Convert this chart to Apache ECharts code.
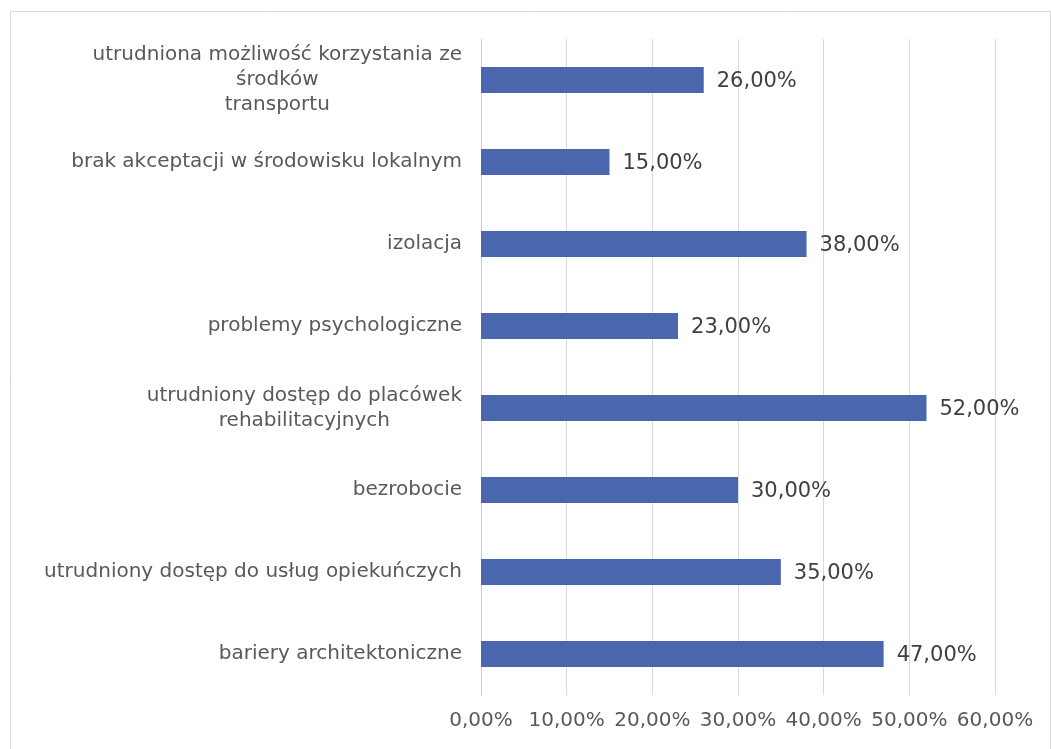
<!DOCTYPE html>
<html>
<head>
<meta charset="utf-8">
<script src="https://cdn.jsdelivr.net/npm/echarts@6/dist/echarts.min.js"></script>
<style>
  html, body { margin: 0; padding: 0; background: #fff; }
  #bar { width: 1051px; height: 749px; }
</style>
</head>
<body>
<div id="bar"></div>
<script>
// categories from bottom to top
var categories = [
  "bariery architektoniczne",
  "utrudniony dostęp do usług opiekuńczych",
  "bezrobocie",
  "utrudniony dostęp do placówek\nrehabilitacyjnych",
  "problemy psychologiczne",
  "izolacja",
  "brak akceptacji w środowisku lokalnym",
  "utrudniona możliwość korzystania ze\nśrodków\ntransportu"
];
var values = [47, 35, 30, 52, 23, 38, 15, 26];
var axisMax = 60;
var axisStep = 10;

function pct(v) {
  return v.toFixed(2).replace(".", ",") + "%";
}

var myChart = echarts.init(document.getElementById("bar"));
myChart.setOption({
  animation: false,
  textStyle: { fontFamily: "DejaVu Sans" },
  graphic: [
    {
      type: "rect",
      shape: { x: 10.5, y: 11.5, width: 1040, height: 740 },
      style: { fill: "none", stroke: "#d9d9d9", lineWidth: 1 }
    }
  ],
  grid: { left: 481, right: 56, top: 39, bottom: 54 },
  xAxis: {
    type: "value",
    min: 0,
    max: axisMax,
    interval: axisStep,
    axisLine: { show: false },
    axisTick: { show: false },
    splitLine: { lineStyle: { color: "#d9d9d9", width: 1 } },
    axisLabel: {
      color: "#595959",
      fontSize: 20,
      margin: 16,
      formatter: function (v) { return pct(v); }
    }
  },
  yAxis: {
    type: "category",
    data: categories,
    axisLine: { lineStyle: { color: "#d0d0d0" } },
    axisTick: { show: false },
    axisLabel: {
      color: "#595959",
      fontSize: 20,
      margin: 19,
      lineHeight: 25,
      formatter: function (v) {
        if (v.indexOf("\n") < 0) return v;
        return v.split("\n").map(function (s) { return "{c|" + s + "}"; }).join("\n");
      },
      rich: {
        c: { align: "center", color: "#595959", fontSize: 20, lineHeight: 25, fontFamily: "DejaVu Sans" }
      }
    }
  },
  series: [
    {
      type: "bar",
      data: values,
      barWidth: 26,
      itemStyle: { color: "#4a66ac" },
      label: {
        show: true,
        position: "right",
        distance: 13,
        offset: [0, 2],
        color: "#404040",
        fontSize: 21,
        formatter: function (p) { return pct(p.value); }
      }
    }
  ]
});
</script>
</body>
</html>
